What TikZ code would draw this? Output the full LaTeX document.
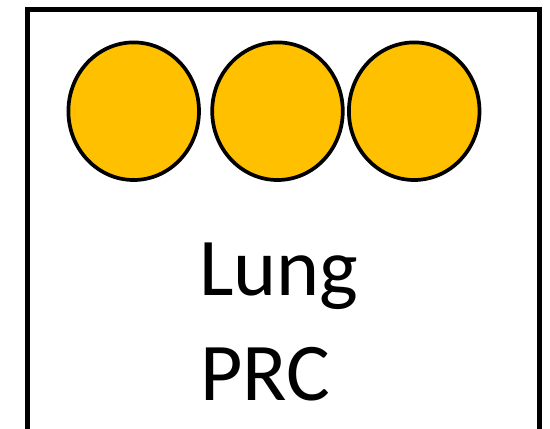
\documentclass[tikz,border=0pt]{standalone}
\usepackage{fontspec}
\setmainfont{Carlito}
\usetikzlibrary{shapes.geometric}
\definecolor{gold}{HTML}{FFC000}
\tikzset{
  cell/.style={ellipse, draw=black, fill=gold, line width=3.7pt, inner sep=0pt,
    minimum width=130.6pt, minimum height=137.6pt},
  lbl/.style={anchor=base, inner sep=0pt, font=\fontsize{82}{98}\selectfont},
  frame/.style={draw=black, line width=5pt}
}
\begin{document}
\begin{tikzpicture}[x=1pt,y=1pt]
\useasboundingbox (0,0) rectangle (550,-429);
\clip (0,0) rectangle (550,-429);
\fill[white] (0,0) rectangle (550,-429);
\draw[frame] (27,-440) -- (27,-9.8) -- (539,-9.8) -- (539,-440);
\node[cell] (c1) at (133.7,-111.2) {};
\node[cell] (c2) at (277.5,-111.2) {};
\node[cell] (c3) at (414.2,-111.2) {};
\node[lbl] (lung) at (279,-295) {Lung};
\node[lbl] (prc) at (265.5,-400) {PRC};
\end{tikzpicture}
\end{document}
